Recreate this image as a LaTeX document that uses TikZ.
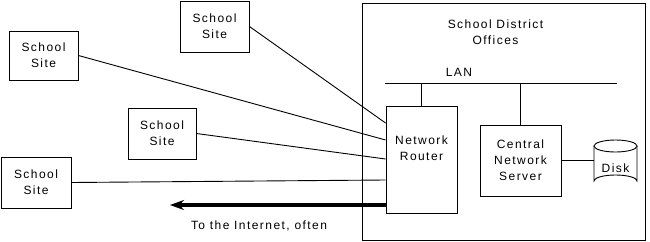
\documentclass[tikz,border=0pt]{standalone}
\usepackage{fontspec}
\setmainfont{Liberation Sans}[LetterSpace=12]
\usetikzlibrary{arrows.meta}
\begin{document}
\begin{tikzpicture}[x=1pt,y=-1pt,line width=0.9pt,
  lbl/.style={font=\fontsize{12}{16}\selectfont,align=center,inner sep=0pt},
  box/.style={draw,rectangle,inner sep=0pt,lbl},
  site/.style={box,minimum width=69pt,minimum height=50pt},
  conn/.style={draw},
  thick arrow/.style={line width=3.6pt,-{Stealth[length=14pt,width=10pt]}}]
\useasboundingbox (0,0) rectangle (650,241);
% school district offices
\node[draw,rectangle,minimum width=283pt,minimum height=237pt,inner sep=0pt] (offices) at (503.5,121.5) {};
\node[lbl] (title) at (495.5,32) {School District\\Offices};
\node[lbl] (lanlabel) at (459,72) {LAN};
\coordinate (lanL) at (385,83);
\coordinate (lanR) at (617,83);
\draw (lanL) -- (lanR);
% router
\node[box,minimum width=71pt,minimum height=107pt] (router) at (421.5,159.5) {};
\node[lbl] (routerlabel) at (421.5,148.5) {Network\\Router};
% server
\node[box,minimum width=81pt,minimum height=71pt] (server) at (520.5,160.5) {Central\\Network\\Server};
% disk
\node[lbl,minimum width=43pt,minimum height=47pt] (disk) at (615.5,163.5) {};
\draw (594,146) -- (594,181) arc[start angle=180,end angle=360,x radius=21.5,y radius=6] -- (637,146);
\draw (615.5,146) ellipse[x radius=21.5,y radius=6];
\node[lbl] (disklabel) at (615.5,168) {Disk};
% connectors inside
\draw (router.north) -- (router.north |- lanL);
\draw (server.north) -- (server.north |- lanL);
\draw (server.east) -- (server.east -| disk.west);
% school sites
\node[site,minimum height=51pt] (siteA) at (214.5,26.5) {School\\Site};
\node[site,minimum height=49pt] (siteB) at (43.5,55.5) {School\\Site};
\node[site,minimum width=68pt,minimum height=51pt] (siteC) at (162,133.5) {School\\Site};
\node[site,minimum width=70pt,minimum height=51pt] (siteD) at (36,182.5) {School\\Site};
\draw (siteA.east) -- ([yshift=36.5pt]router.west);
\draw (siteB.east) -- ([yshift=19.5pt]router.west);
\draw (siteC.east) -- ([yshift=0.5pt]router.west);
\draw (siteD.east) -- ([yshift=-20.5pt]router.west);
% internet
\coordinate (inet) at (170,205);
\draw[thick arrow] ([yshift=-45.5pt]router.west) -- (inet);
\node[lbl] (inetlabel) at (259,226) {To the Internet, often};
\end{tikzpicture}
\end{document}
